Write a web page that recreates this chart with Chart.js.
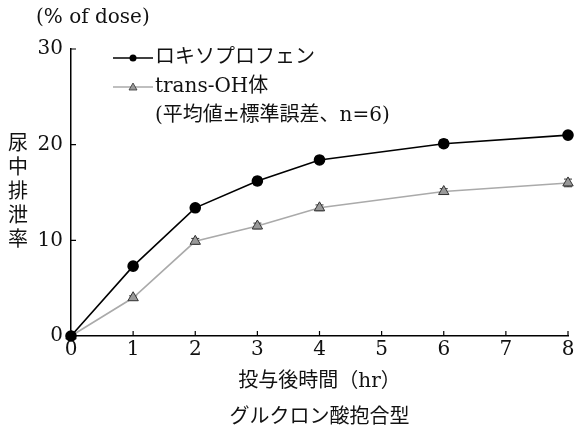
<!DOCTYPE html>
<html>
<head>
<meta charset="utf-8">
<script src="https://cdn.jsdelivr.net/npm/chart.js@4/dist/chart.umd.min.js"></script>
<style>
  html, body { margin: 0; padding: 0; background: #fff; }
  #wrap { width: 578px; height: 432px; }
</style>
</head>
<body>
<div id="wrap"><canvas id="chart"></canvas></div>
<script>
// ─── DATA ───
const hours = [0, 1, 2, 3, 4, 6, 8];
const loxoprofen = [0, 7.3, 13.4, 16.2, 18.4, 20.1, 21.0];
const loxoprofenSE = [0, 0.3, 0.3, 0.4, 0.3, 0.4, 0.3];
const transOH = [0, 4.0, 9.9, 11.5, 13.4, 15.1, 16.0];
const transOHSE = [0, 0.2, 0.3, 0.3, 0.3, 0.3, 0.4];
const seriesNames = ['ロキソプロフェン', 'trans-OH体'];
const noteText = '(平均値±標準誤差、n=6)';
const unitText = '(% of dose)';
const yTitle = ['尿', '中', '排', '泄', '率'];
const xTitle = '投与後時間（hr）';
const subTitle = 'グルクロン酸抱合型';

const FONT = "'DejaVu Serif', 'Liberation Serif', 'Noto Sans CJK JP', serif";

function toPoints(xs, ys) {
    return xs.map((x, i) => ({ x: x, y: ys[i] }));
}

// ─── ERROR BARS + INWARD TICKS + TEXT ───
const decorPlugin = {
    id: 'decor',
    beforeDatasetsDraw(chart) {
        const ctx = chart.ctx;
        const xs = chart.scales.x, ys = chart.scales.y;
        const sets = [[transOH, transOHSE, '#333'], [loxoprofen, loxoprofenSE, '#000']];
        ctx.save();
        sets.forEach(([vals, se, col]) => {
            ctx.strokeStyle = col;
            ctx.lineWidth = 1;
            hours.forEach((h, i) => {
                if (!se[i]) return;
                const px = xs.getPixelForValue(h);
                const top = ys.getPixelForValue(vals[i] + se[i]);
                const bot = ys.getPixelForValue(vals[i] - se[i]);
                ctx.beginPath();
                ctx.moveTo(px, top); ctx.lineTo(px, bot);
                ctx.moveTo(px - 4, top); ctx.lineTo(px + 4, top);
                ctx.moveTo(px - 4, bot); ctx.lineTo(px + 4, bot);
                ctx.stroke();
            });
        });
        ctx.restore();
    },
    afterDraw(chart) {
        const ctx = chart.ctx;
        const xs = chart.scales.x, ys = chart.scales.y;
        const area = chart.chartArea;
        ctx.save();
        // inward ticks
        ctx.strokeStyle = '#000';
        ctx.lineWidth = 1.2;
        ctx.beginPath();
        for (let v = 10; v <= 30; v += 10) {
            const py = ys.getPixelForValue(v);
            ctx.moveTo(area.left, py); ctx.lineTo(area.left + 5, py);
        }
        for (let h = 1; h <= 8; h++) {
            const px = xs.getPixelForValue(h);
            ctx.moveTo(px, area.bottom); ctx.lineTo(px, area.bottom - 5);
        }
        ctx.stroke();

        // legend
        const legendX = 113, legendW = 40;
        const rows = [
            { y: 58, line: '#000', lw: 1.5 },
            { y: 87, line: '#aaa', lw: 1.5 }
        ];
        rows.forEach((r, i) => {
            ctx.strokeStyle = r.line;
            ctx.lineWidth = r.lw;
            ctx.beginPath();
            ctx.moveTo(legendX, r.y); ctx.lineTo(legendX + legendW, r.y);
            ctx.stroke();
            const cx = legendX + legendW / 2;
            if (i === 0) {
                ctx.fillStyle = '#000';
                ctx.beginPath();
                ctx.arc(cx, r.y, 3.5, 0, Math.PI * 2);
                ctx.fill();
            } else {
                ctx.fillStyle = '#999';
                ctx.strokeStyle = '#333';
                ctx.lineWidth = 0.8;
                ctx.beginPath();
                ctx.moveTo(cx, r.y - 4);
                ctx.lineTo(cx + 4, r.y + 3);
                ctx.lineTo(cx - 4, r.y + 3);
                ctx.closePath();
                ctx.fill(); ctx.stroke();
            }
            ctx.fillStyle = '#111';
            ctx.font = '20px ' + FONT;
            ctx.textAlign = 'left';
            ctx.textBaseline = 'middle';
            ctx.fillText(seriesNames[i], legendX + legendW + 2, r.y);
        });
        ctx.fillText(noteText, 155, 116);

        // unit label
        ctx.font = '20px ' + FONT;
        ctx.textAlign = 'left';
        ctx.fillText(unitText, 36, 18);

        // vertical y title
        ctx.textAlign = 'center';
        ctx.font = '20px ' + FONT;
        yTitle.forEach((c, i) => ctx.fillText(c, 18, 145 + i * 24));

        // x title and subtitle
        ctx.font = '20px ' + FONT;
        ctx.fillText(xTitle, (area.left + area.right) / 2, 382);
        ctx.fillText(subTitle, (area.left + area.right) / 2, 418);
        ctx.restore();
    }
};

// ─── CREATE THE CHART ───
const ctx = document.getElementById('chart').getContext('2d');
new Chart(ctx, {
    type: 'line',
    data: {
        datasets: [
            {
                label: seriesNames[0],
                data: toPoints(hours, loxoprofen),
                borderColor: '#000',
                borderWidth: 1.6,
                pointStyle: 'circle',
                pointRadius: 5,
                pointBackgroundColor: '#000',
                pointBorderColor: '#000',
                tension: 0,
                clip: false
            },
            {
                label: seriesNames[1],
                data: toPoints(hours, transOH),
                borderColor: '#aaa',
                borderWidth: 1.6,
                pointStyle: 'triangle',
                pointRadius: 6,
                pointBackgroundColor: '#999',
                pointBorderColor: '#333',
                pointBorderWidth: 1,
                tension: 0,
                clip: false
            }
        ]
    },
    options: {
        responsive: true,
        maintainAspectRatio: false,
        animation: false,
        layout: { padding: { left: 0, top: 49, right: 10, bottom: 0 } },
        plugins: {
            legend: { display: false },
            tooltip: { enabled: false }
        },
        scales: {
            x: {
                type: 'linear',
                min: 0, max: 8,
                ticks: { stepSize: 1, color: '#111', padding: 2, font: { family: FONT, size: 20 } },
                grid: { display: false, drawTicks: false },
                border: { display: true, color: '#000', width: 1.5 },
                afterFit(scale) { scale.height = 96; }
            },
            y: {
                min: 0, max: 30,
                ticks: { stepSize: 10, color: '#111', padding: 8, font: { family: FONT, size: 20 } },
                grid: { display: false, drawTicks: false },
                border: { display: true, color: '#000', width: 1.5 },
                afterFit(scale) { scale.width = 71; }
            }
        }
    },
    plugins: [decorPlugin]
});
</script>
</body>
</html>
